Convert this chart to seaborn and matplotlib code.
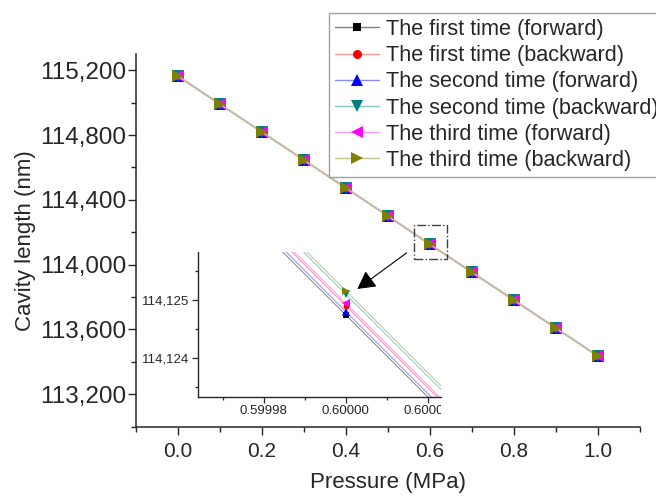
import matplotlib
matplotlib.use("Agg")
import matplotlib.pyplot as plt
import matplotlib.ticker as mticker
from matplotlib.patches import Rectangle
from matplotlib.transforms import Bbox, TransformedBbox
import seaborn as sns

# ---------------- data ----------------
pressure = [0.0, 0.1, 0.2, 0.3, 0.4, 0.5, 0.6, 0.7, 0.8, 0.9, 1.0]

series_names = [
    "The first time (forward)",
    "The first time (backward)",
    "The second time (forward)",
    "The second time (backward)",
    "The third time (forward)",
    "The third time (backward)",
]

first_forward = [115163.2, 114990.4, 114817.9, 114645.3, 114472.6, 114299.8, 114124.74, 113952.5, 113780.6, 113608.1, 113435.7]
first_backward = [115163.4, 114990.6, 114818.1, 114645.5, 114472.8, 114300.0, 114124.90, 113952.7, 113780.8, 113608.3, 113435.9]
second_forward = [115163.3, 114990.5, 114818.0, 114645.4, 114472.7, 114299.9, 114124.80, 113952.6, 113780.7, 113608.2, 113435.8]
second_backward = [115163.6, 114990.8, 114818.3, 114645.7, 114473.0, 114300.2, 114125.10, 113952.9, 113781.0, 113608.5, 113436.1]
third_forward = [115163.5, 114990.7, 114818.2, 114645.6, 114472.9, 114300.1, 114124.94, 113952.8, 113780.9, 113608.4, 113436.0]
third_backward = [115163.7, 114990.9, 114818.4, 114645.8, 114473.1, 114300.3, 114125.16, 113953.0, 113781.1, 113608.6, 113436.2]

# inset (zoom around 0.6 MPa)
inset_point_x = [0.60000]
inset_line_x = [0.59996, 0.60004]
inset_first_forward = [114127.58, 114121.90]
inset_first_backward = [114127.74, 114122.06]
inset_second_forward = [114127.64, 114121.96]
inset_second_backward = [114127.94, 114122.26]
inset_third_forward = [114127.78, 114122.10]
inset_third_backward = [114128.00, 114122.32]

main_xticks = [0.0, 0.2, 0.4, 0.6, 0.8, 1.0]
main_yticks = [113200, 113600, 114000, 114400, 114800, 115200]
inset_xticks = [0.59998, 0.60000, 0.60002]
inset_yticks = [114124, 114125]

# ---------------- style ----------------
sns.set_style("ticks")
plt.rcParams["font.family"] = ["Liberation Sans", "DejaVu Sans"]
plt.rcParams["axes.linewidth"] = 1.1

colors = ["#000000", "#FF0000", "#0000FF", "#008080", "#FF00FF", "#808000"]
line_colors = ["#808080", "#F59A9A", "#8C8CF5", "#8CC4C4", "#F59AF5", "#C4C48C"]
markers = ["s", "o", "^", "v", "<", ">"]
marker_sizes = [6, 6.5, 8, 8, 8, 8]
main_series = [first_forward, first_backward, second_forward, second_backward, third_forward, third_backward]
inset_series = [inset_first_forward, inset_first_backward, inset_second_forward,
                inset_second_backward, inset_third_forward, inset_third_backward]

fig = plt.figure(figsize=(6.56, 5.0), dpi=100)
ax = fig.add_axes([136 / 656, 1 - 426.7 / 500, (640 - 136) / 656, (426.7 - 54) / 500])

for i, (vals, name, c, lc, m, ms) in enumerate(zip(main_series, series_names, colors,
                                                     line_colors, markers, marker_sizes)):
    sns.lineplot(x=pressure, y=vals, ax=ax, color=lc, marker=m, markersize=ms,
                 markerfacecolor=c, markeredgecolor=c, markeredgewidth=0,
                 linewidth=1.0, label=name, zorder=3 + i)

ax.set_xlim(-0.1, 1.1)
ax.set_ylim(113000, 115300)
ax.set_xticks(main_xticks)
ax.set_yticks(main_yticks)
ax.xaxis.set_minor_locator(mticker.MultipleLocator(0.1))
ax.yaxis.set_minor_locator(mticker.MultipleLocator(200))
ax.xaxis.set_major_formatter(mticker.FormatStrFormatter("%.1f"))
ax.yaxis.set_major_formatter(mticker.FuncFormatter(lambda v, p: f"{v:,.0f}"))
ax.tick_params(axis="x", which="major", labelsize=15, length=6, width=1, direction="out", pad=5)
ax.tick_params(axis="y", which="major", labelsize=17.5, length=6, width=1, direction="out", pad=1)
ax.tick_params(which="minor", length=3.5, width=1, direction="out")
sns.despine(ax=ax)
ax.set_xlabel("Pressure (MPa)", fontsize=16, labelpad=8)
ax.set_ylabel("Cavity length (nm)", fontsize=16, labelpad=3)

# dash-dot zoom box
ax.add_patch(Rectangle((0.561, 114035), 0.079, 210, fill=False, ls="-.", lw=1,
                       ec="#404040", zorder=10))
# arrow
ax.annotate("", xy=(0.427, 113850), xytext=(0.544, 114072),
            arrowprops=dict(arrowstyle="-|>,head_length=0.55,head_width=0.3",
                            color="black", lw=0.8, mutation_scale=20,
                            shrinkA=0, shrinkB=0), zorder=11)

# legend
handles, labels = ax.get_legend_handles_labels()
leg = ax.legend(handles, labels, loc="upper left",
                bbox_to_anchor=(329 / 656, 1 - 13 / 500), bbox_transform=fig.transFigure,
                borderaxespad=0, fontsize=15.6, frameon=True, fancybox=False,
                framealpha=1, edgecolor="#a0a0a0", handlelength=2.05,
                handletextpad=0.3, labelspacing=0.24, borderpad=0.28)
leg.get_frame().set_linewidth(1.0)
leg.set_zorder(20)

# ---------------- inset ----------------
ax_in = fig.add_axes([198 / 656, 1 - 397 / 500, (441 - 198) / 656, (397 - 252) / 500])
ax_in.set_facecolor("none")
for lvals, lc in zip(inset_series, line_colors):
    sns.lineplot(x=inset_line_x, y=lvals, ax=ax_in, color=lc, linewidth=0.7)
for i, (vals, c, m, ms) in enumerate(zip(main_series, colors, markers, marker_sizes)):
    ax_in.plot(inset_point_x, [vals[6]], linestyle="none", marker=m, color=c,
               markersize=ms * 0.65, markeredgewidth=0, zorder=5 + i)

ax_in.set_xlim(0.599964, 0.6000232)
ax_in.set_ylim(114123.32, 114125.83)
ax_in.set_xticks(inset_xticks)
ax_in.set_yticks(inset_yticks)
ax_in.xaxis.set_minor_locator(mticker.MultipleLocator(0.00001))
ax_in.yaxis.set_minor_locator(mticker.MultipleLocator(0.5))
ax_in.xaxis.set_major_formatter(mticker.FormatStrFormatter("%.5f"))
ax_in.yaxis.set_major_formatter(mticker.FuncFormatter(lambda v, p: f"{v:,.0f}"))
ax_in.tick_params(which="major", labelsize=9.5, length=4, width=0.9, direction="out", pad=2)
ax_in.tick_params(which="minor", length=2.5, width=0.9, direction="out")
sns.despine(ax=ax_in)
for s in ("left", "bottom"):
    ax_in.spines[s].set_linewidth(1.0)
ax_in.set_xlabel("")
ax_in.set_ylabel("")

fig.canvas.draw()
clip = TransformedBbox(Bbox([[-0.5, -1.0], [1.0, 1.0]]), ax_in.transAxes)
for lab in ax_in.get_xticklabels():
    lab.set_clip_box(clip)
    lab.set_clip_on(True)

fig.savefig("out.png", dpi=100)
